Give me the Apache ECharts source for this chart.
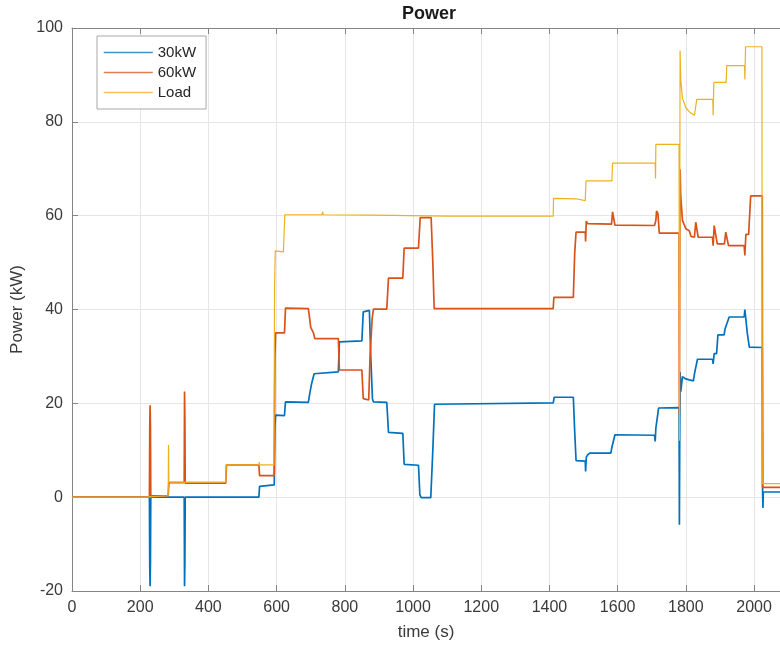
<!DOCTYPE html>
<html>
<head>
<meta charset="utf-8">
<title>Power</title>
<script src="https://cdn.jsdelivr.net/npm/echarts@6/dist/echarts.min.js"></script>
<style>
  html, body { margin: 0; padding: 0; background: #ffffff; }
  #chart { width: 780px; height: 646px; }
</style>
</head>
<body>
<div id="chart"></div>
<script>
// Power of the two generator units and the load over time: [time (s), power (kW)]
const seriesNames = ['30kW', '60kW', 'Load'];

const power30kW = [
  [0, 0], [227, 0], [228, -15], [229, -19], [230, -14], [231, 0],
  [329, 0], [330, -19], [331, -14], [332, 0],
  [548, 0], [550, 2.3], [593, 2.6],
  [595, 15], [597, 17.5], [623, 17.4], [626, 20.3], [693, 20.2], [697, 22], [702, 24],
  [710, 26.3], [715, 26.7], [781, 26.7], [784, 33.1], [850, 33.3], [854, 39.5], [857, 39.8],
  [872, 39.8], [876, 30], [881, 21], [884, 20.3], [923, 20.2], [928, 13.8], [970, 13.6],
  [974, 7], [1016, 6.8], [1020, 0.5], [1024, -0.1], [1052, -0.1], [1058, 10], [1063, 19.8],
  [1068, 20], [1411, 20.1], [1414, 21.3], [1470, 21.3], [1474, 14], [1478, 7.8], [1505, 7.7],
  [1506, 5.5], [1508, 8.5], [1512, 9.0], [1518, 9.4], [1580, 9.4], [1583, 10.6], [1587, 10.6],
  [1592, 13.3], [1708, 13.2], [1710, 11.9], [1712, 14.7], [1716, 15], [1720, 19], [1780, 19.1],
  [1781, -5.9], [1782, 12], [1783, 26.7], [1785, 22.5], [1790, 25.7], [1800, 25.2], [1810, 25.0],
  [1822, 24.8], [1826, 26.6], [1830, 27], [1834, 29.4], [1878, 29.4], [1880, 28.4], [1883, 30.6],
  [1890, 30.6], [1894, 34.6], [1912, 34.6], [1915, 35.9], [1920, 36], [1927, 38.4], [1971, 38.4],
  [1973, 40], [1976, 40], [1980, 35], [1986, 32], [1990, 31.9], [2024, 31.9], [2025, 1],
  [2026, -2.3], [2027, 1.1], [2076, 1.1]
];

const power60kW = [
  [0, 0], [227, 0], [228, 15], [229, 19.6], [230, 15], [231, 0.3], [282, 0.3], [284, 3.1],
  [329, 3.1], [330, 22.5], [331, 17], [332, 3], [451, 3], [453, 6.9], [548, 6.9], [550, 4.6],
  [593, 4.6], [595, 30], [597, 35], [623, 35], [626, 40.3], [693, 40.2], [697, 38], [700, 36.2],
  [708, 35], [712, 33.8], [781, 33.8], [784, 27.1], [850, 27.1], [854, 21], [857, 20.7],
  [870, 20.7], [874, 30], [880, 38], [884, 40.1], [923, 40.1], [928, 46.7], [970, 46.7],
  [974, 53.1], [1016, 53.1], [1021, 59.6], [1053, 59.6], [1058, 50], [1062, 40.2], [1411, 40.2],
  [1413, 42.6], [1470, 42.6], [1474, 52], [1478, 56.5], [1505, 56.5], [1506, 54.5], [1508, 58.8],
  [1512, 58.3], [1582, 58.2], [1585, 60.8], [1589, 60.8], [1592, 58], [1708, 57.9], [1712, 59],
  [1714, 61], [1718, 60.5], [1722, 56.3], [1780, 56.3], [1781, 17.8], [1782, 50], [1783, 69.9],
  [1785, 64], [1790, 59], [1800, 57.2], [1810, 56.8], [1815, 55.6], [1825, 55.4], [1829, 58.6],
  [1833, 58.4], [1836, 55.4], [1878, 55.4], [1880, 53.6], [1883, 57.9], [1888, 57.8], [1892, 54.0],
  [1913, 54], [1917, 56.5], [1921, 56.5], [1925, 53.6], [1971, 53.6], [1973, 51.5], [1976, 56],
  [1984, 56], [1990, 64.2], [2024, 64.2], [2025, 2.1], [2076, 2.1]
];

const powerLoad = [
  [0, 0], [215, 0], [218, 0.3], [282, 0.3], [283, 11.1], [284, 3.2], [451, 3.2], [452, 6.9],
  [548, 6.9], [549, 7.5], [550, 6.9], [592, 6.9], [594, 45], [596, 52.5], [620, 52.3],
  [624, 60.2], [733, 60.2], [735, 60.8], [737, 60.2], [880, 60.1], [1100, 59.9], [1411, 59.9],
  [1412, 63.7], [1478, 63.6], [1505, 63.2], [1507, 67.4], [1583, 67.4], [1585, 71.2],
  [1710, 71.2], [1711, 67.9], [1712, 75.2], [1780, 75.2], [1781, 12], [1783, 95.2], [1785, 89],
  [1790, 85], [1800, 83], [1812, 82], [1825, 81.4], [1830, 81.2], [1832, 84.8], [1879, 84.8],
  [1880, 81.4], [1882, 88.4], [1918, 88.4], [1920, 92.0], [1972, 92], [1973, 89], [1975, 96],
  [2023, 96], [2024, 2.9], [2076, 2.9]
];

// axis extents and tick spacing
const timeMin = 0, timeMax = 2076, timeStep = 200;
const powerMin = -20, powerMax = 100, powerStep = 20;

const FONT = '"Liberation Sans", Arial, Helvetica, sans-serif';
const AXIS_COLOR = '#858585';
const TEXT_COLOR = '#3a3a3a';
const GRID_COLOR = '#e6e6e6';
const COLORS = ['#0072BD', '#D95319', '#EDB120'];

const chart = echarts.init(document.getElementById('chart'), null, { renderer: 'canvas' });

const tickLabel = v => (v % timeStep === 0 ? String(v) : '');

chart.setOption({
  animation: false,
  backgroundColor: '#ffffff',
  color: COLORS,
  title: {
    text: 'Power',
    left: 429,
    top: 5,
    textAlign: 'center',
    padding: 0,
    textStyle: { fontFamily: FONT, fontSize: 18, fontWeight: 'bold', color: '#1a1a1a' }
  },
  legend: {
    orient: 'vertical',
    left: 97,
    top: 36,
    padding: [9, 10, 9, 6],
    itemWidth: 49,
    itemHeight: 14,
    itemGap: 5,
    backgroundColor: '#ffffff',
    borderColor: '#a8a8a8',
    borderWidth: 1,
    itemStyle: { opacity: 0 },
    lineStyle: { width: 1.5, opacity: 0.75 },
    textStyle: { fontFamily: FONT, fontSize: 15, color: '#262626' },
    data: seriesNames
  },
  grid: { left: 72, right: 0, top: 28, bottom: 53, containLabel: false },
  xAxis: [
    {
      type: 'value',
      position: 'bottom',
      min: timeMin,
      max: timeMax,
      interval: timeStep,
      name: 'time (s)',
      nameLocation: 'middle',
      nameGap: 33,
      nameTextStyle: { fontFamily: FONT, fontSize: 17, color: TEXT_COLOR },
      axisLine: { show: true, onZero: false, lineStyle: { color: AXIS_COLOR, width: 1 } },
      axisTick: { show: true, inside: true, length: 6, lineStyle: { color: AXIS_COLOR } },
      axisLabel: { margin: 9, fontFamily: FONT, fontSize: 16, color: TEXT_COLOR, formatter: tickLabel, showMaxLabel: false },
      splitLine: { show: true, showMaxLine: false, lineStyle: { color: GRID_COLOR, width: 1 } }
    },
    {
      type: 'value',
      position: 'top',
      min: timeMin,
      max: timeMax,
      interval: timeStep,
      axisLine: { show: true, onZero: false, lineStyle: { color: AXIS_COLOR, width: 1 } },
      axisTick: { show: true, inside: true, length: 6, lineStyle: { color: AXIS_COLOR } },
      axisLabel: { show: false },
      splitLine: { show: false }
    }
  ],
  yAxis: {
    type: 'value',
    min: powerMin,
    max: powerMax,
    interval: powerStep,
    name: 'Power (kW)',
    nameLocation: 'middle',
    nameGap: 36,
    nameTextStyle: { fontFamily: FONT, fontSize: 17, color: TEXT_COLOR },
    axisLine: { show: true, onZero: false, lineStyle: { color: AXIS_COLOR, width: 1 } },
    axisTick: { show: true, inside: true, length: 6, lineStyle: { color: AXIS_COLOR } },
    axisLabel: { margin: 9, fontFamily: FONT, fontSize: 16, color: TEXT_COLOR },
    splitLine: { show: true, lineStyle: { color: GRID_COLOR, width: 1 } }
  },
  series: [
    { name: seriesNames[0], type: 'line', data: power30kW, showSymbol: false, lineStyle: { width: 1.7 }, z: 2 },
    { name: seriesNames[1], type: 'line', data: power60kW, showSymbol: false, lineStyle: { width: 1.7 }, z: 3 },
    { name: seriesNames[2], type: 'line', data: powerLoad, showSymbol: false, lineStyle: { width: 1.2 }, z: 4 }
  ]
});
</script>
</body>
</html>
